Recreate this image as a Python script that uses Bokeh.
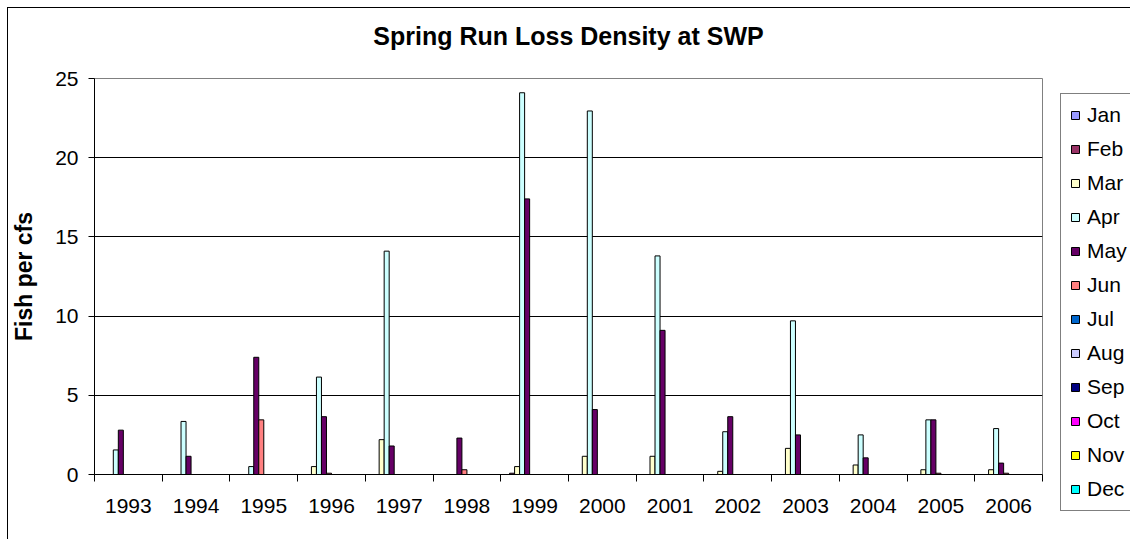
import numpy as np
from bokeh.plotting import figure
from bokeh.layouts import row
from bokeh.models import (ColumnDataSource, Range1d, FixedTicker, Legend, LegendItem, Title)
from bokeh.embed import file_html
from bokeh.resources import INLINE

years = ["1993", "1994", "1995", "1996", "1997", "1998", "1999",
         "2000", "2001", "2002", "2003", "2004", "2005", "2006"]
months = ["Jan", "Feb", "Mar", "Apr", "May", "Jun",
          "Jul", "Aug", "Sep", "Oct", "Nov", "Dec"]

jan = [0, 0, 0, 0, 0, 0, 0, 0, 0, 0, 0, 0, 0, 0]
feb = [0, 0, 0, 0, 0, 0, 0.08, 0, 0, 0, 0, 0, 0, 0]
mar = [0, 0, 0, 0.5, 2.2, 0, 0.5, 1.15, 1.15, 0.2, 1.65, 0.6, 0.3, 0.3]
apr = [1.55, 3.35, 0.5, 6.15, 14.1, 0, 24.1, 22.95, 13.8, 2.7, 9.7, 2.5, 3.45, 2.9]
may = [2.8, 1.15, 7.4, 3.65, 1.8, 2.3, 17.4, 4.1, 9.1, 3.65, 2.5, 1.05, 3.45, 0.72]
jun = [0, 0, 3.45, 0.08, 0, 0.3, 0, 0, 0, 0, 0, 0, 0.08, 0.08]
jul = [0, 0, 0, 0, 0, 0, 0, 0, 0, 0, 0, 0, 0, 0]
aug = [0, 0, 0, 0, 0, 0, 0, 0, 0, 0, 0, 0, 0, 0]
sep = [0, 0, 0, 0, 0, 0, 0, 0, 0, 0, 0, 0, 0, 0]
oct_ = [0, 0, 0, 0, 0, 0, 0, 0, 0, 0, 0, 0, 0, 0]
nov = [0, 0, 0, 0, 0, 0, 0, 0, 0, 0, 0, 0, 0, 0]
dec = [0, 0, 0, 0, 0, 0, 0, 0, 0, 0, 0, 0, 0, 0]
series = [jan, feb, mar, apr, may, jun, jul, aug, sep, oct_, nov, dec]

colors = ["#9999FF", "#993366", "#FFFFCC", "#CCFFFF", "#660066", "#FF8080",
          "#0066CC", "#CCCCFF", "#000080", "#FF00FF", "#FFFF00", "#00FFFF"]

FONT = "Liberation Sans"

# ---- main chart -------------------------------------------------------
p = figure(width=1044, height=531, output_backend="svg", toolbar_location=None,
           x_range=Range1d(0, len(years)), y_range=Range1d(0, 25),
           min_border_left=85, min_border_right=10, min_border_top=70,
           min_border_bottom=65, title=None)
p.background_fill_color = "white"
p.border_fill_color = "white"
p.outline_line_color = "#808080"
p.outline_line_width = 1

# spacer band between frame and title, then the title itself
p.add_layout(Title(text=" ", text_font_size="1px", standoff=26), "above")
p.add_layout(Title(text="Spring Run Loss Density at SWP", align="center",
                   text_font=FONT, text_font_size="25px", text_font_style="bold",
                   text_color="black", standoff=0), "above")

nslots = 13.5
bw = 1.0 / nslots
base = np.arange(len(years)) + 0.5
sources = []
for k, (m, vals, c) in enumerate(zip(months, series, colors)):
    src = ColumnDataSource(dict(x=base + (k - 5.5) / nslots, top=vals))
    sources.append(src)
    p.vbar(x="x", top="top", bottom=0, width=bw, source=src,
           fill_color=c, line_color="black", line_width=1)

# x axis: labels at category centres, ticks at category boundaries
xa = p.xaxis[0]
xa.ticker = FixedTicker(ticks=list(base), minor_ticks=list(range(len(years) + 1)))
xa.major_label_overrides = {float(b): y for b, y in zip(base, years)}
xa.major_tick_line_color = None
xa.major_tick_out = 0
xa.major_tick_in = 0
xa.minor_tick_line_color = "black"
xa.minor_tick_out = 7
xa.minor_tick_in = 0
xa.axis_line_color = "black"
xa.major_label_text_font = FONT
xa.major_label_text_font_size = "21px"
xa.major_label_text_color = "black"
xa.major_label_standoff = 17

ya = p.yaxis[0]
ya.ticker = FixedTicker(ticks=[0, 5, 10, 15, 20, 25], minor_ticks=[])
ya.major_tick_out = 6
ya.major_tick_in = 0
ya.major_tick_line_color = "black"
ya.axis_line_color = "black"
ya.major_label_text_font = FONT
ya.major_label_text_font_size = "21px"
ya.major_label_text_color = "black"
ya.major_label_standoff = 10
ya.axis_label = "Fish per cfs"
ya.axis_label_text_font = FONT
ya.axis_label_text_font_size = "23px"
ya.axis_label_text_font_style = "bold"
ya.axis_label_text_color = "black"
ya.axis_label_standoff = 15

p.xgrid.visible = False
p.ygrid.ticker = FixedTicker(ticks=[5, 10, 15, 20])
p.ygrid.grid_line_color = "black"
p.ygrid.grid_line_width = 1

# ---- legend panel: same series, range set so the bars themselves are off-view
q = figure(width=78, height=531, output_backend="svg", toolbar_location=None,
           x_range=Range1d(-2, -1), y_range=Range1d(0, 25), min_border=0,
           x_axis_location=None, y_axis_location=None, title=None)
q.grid.visible = False
q.outline_line_color = None
q.background_fill_color = "white"
q.border_fill_color = "white"
for fig in (p, q):
    if "frame_align" in fig.properties():
        fig.frame_align = False
items = []
for m, c, src in zip(months, colors, sources):
    r = q.vbar(x="x", top="top", bottom=0, width=bw, source=src,
               fill_color=c, line_color="black", line_width=1)
    items.append(LegendItem(label=m, renderers=[r]))
legend = Legend(items=items, location=(8, 28), margin=0,
                padding=9, spacing=10, glyph_width=10, glyph_height=10,
                label_standoff=7, label_height=24, label_width=52,
                label_text_font=FONT, label_text_font_size="21px",
                label_text_color="black",
                border_line_color="black", border_line_width=1,
                background_fill_color="white", background_fill_alpha=1)
q.add_layout(legend)

layout = row(p, q, spacing=0,
             styles={"margin-left": "7px", "margin-top": "7px",
                     "border-left": "1px solid black", "border-top": "1px solid black"})

open("out.html", "w").write(file_html(layout, INLINE))
